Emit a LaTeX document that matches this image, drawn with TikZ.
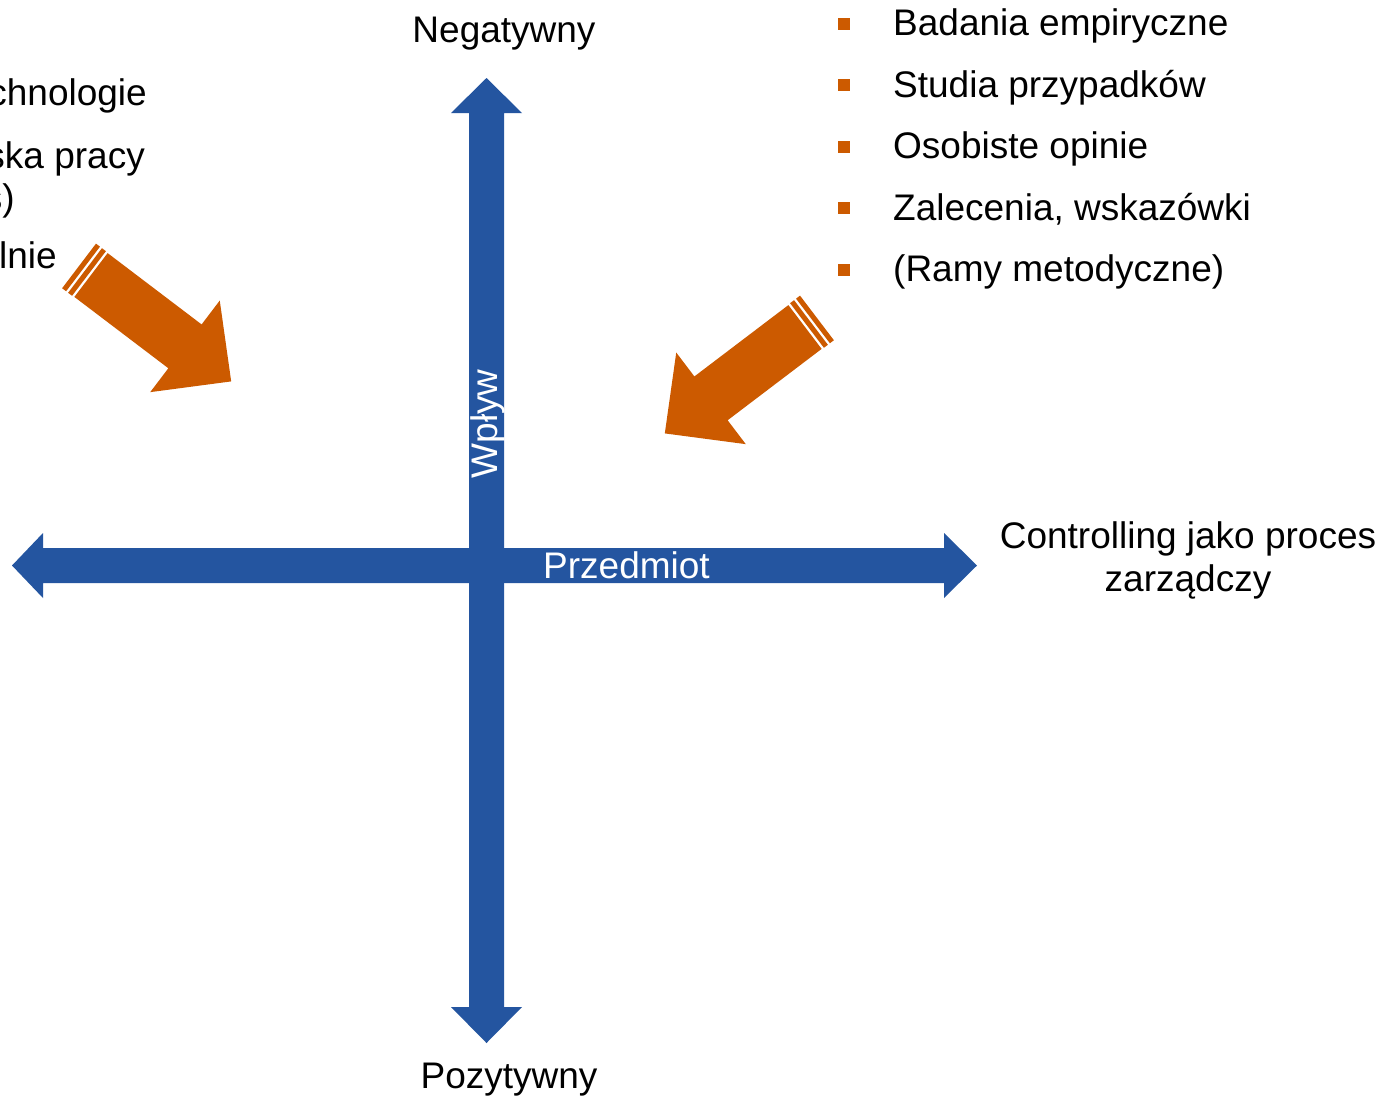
\documentclass[tikz,border=0pt]{standalone}
\usepackage{fontspec}
\setmainfont{Liberation Sans}
\definecolor{axblue}{HTML}{2455A0}
\definecolor{arrorange}{HTML}{CC5A00}
\begin{document}
\begin{tikzpicture}[x=1pt,y=-1pt,
  txt/.style={inner sep=0pt, font=\fontsize{37}{44}\selectfont},
  wtxt/.style={txt, text=white},
  bul/.style={fill=arrorange},
  stripearrow/.pic={
    \fill[arrorange] (0,-27.5) -- (118,-27.5) -- (118,-57.5) -- (176,0) -- (118,57.5) -- (118,27.5) -- (0,27.5) -- cycle;
    \fill[arrorange] (-7.5,-28) rectangle (-2.5,28);
    \fill[arrorange] (-15,-28) rectangle (-10,28);
  }]
\useasboundingbox (0,0) rectangle (1382,1096);
\clip (0,0) rectangle (1382,1096);
\fill[white] (0,0) rectangle (1382,1096);

% vertical axis
\fill[axblue] (486.5,78) -- (522,113) -- (504,113) -- (504,1007) -- (522,1007) -- (486.5,1043) -- (451,1007) -- (469,1007) -- (469,113) -- (451,113) -- cycle;
% horizontal axis
\fill[axblue] (12,565.5) -- (43,533) -- (43,548) -- (944,548) -- (944,533) -- (977,565.5) -- (944,598) -- (944,583) -- (43,583) -- (43,598) -- cycle;

\node[wtxt, rotate=90, anchor=base] (wplyw) at (497,424) {Wpływ};
\node[wtxt, anchor=base] (przedmiot) at (626.5,578) {Przedmiot};

\node[txt, anchor=base] (neg) at (504,42) {Negatywny};
\node[txt, anchor=base] (poz) at (509,1088) {Pozytywny};
\node[txt, anchor=base] (ctrl1) at (1188,548) {Controlling jako proces};
\node[txt, anchor=base] (ctrl2) at (1188,591) {zarządczy};

% orange arrows
\path (91,275) pic[rotate=-37.2] {stripearrow};
\path (805,327) pic[rotate=-142.8] {stripearrow};

% right bullet list
\foreach \t [count=\i from 0] in {Badania empiryczne, Studia przypadków, Osobiste opinie, {Zalecenia, wskazówki}, (Ramy metodyczne)} {
  \pgfmathsetmacro{\bl}{35.5+61.5*\i}
  \fill[bul] (838,\bl-18) rectangle (850,\bl-6);
  \node[txt, anchor=base west] (item\i) at (893,\bl) {\t};
}

% left (clipped) list
\node[txt, anchor=base east] (l1) at (147,105) {chnologie};
\node[txt, anchor=base east] (l2) at (145,168) {ska pracy};
\node[txt, anchor=base east] (l3) at (15,210) {s)};
\node[txt, anchor=base east] (l4) at (57,268) {lnie};
\end{tikzpicture}
\end{document}
